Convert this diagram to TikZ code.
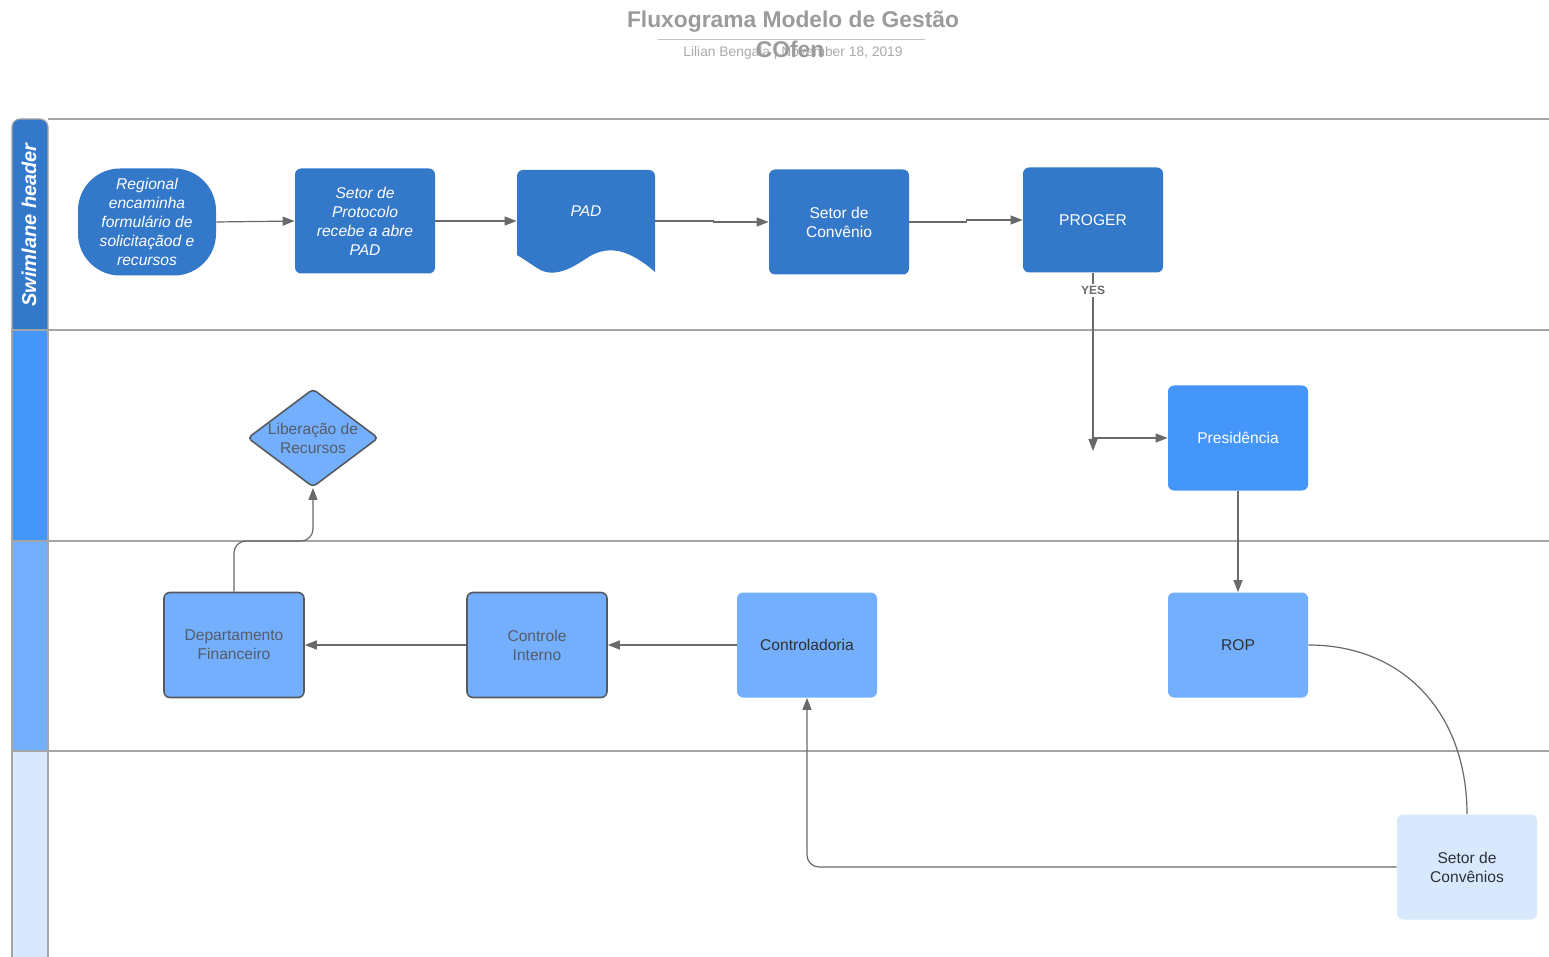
\documentclass[tikz,border=0pt]{standalone}
\usepackage{fontspec}
\setmainfont{Liberation Sans}
\usetikzlibrary{shapes.geometric, arrows.meta}
\definecolor{laneA}{RGB}{52,120,202}
\definecolor{laneB}{RGB}{68,150,250}
\definecolor{laneC}{RGB}{116,175,253}
\definecolor{laneD}{RGB}{216,232,253}
\definecolor{lanegray}{RGB}{165,165,165}
\definecolor{arrgray}{RGB}{105,105,105}
\definecolor{titlegray}{RGB}{155,155,155}
\definecolor{darktext}{RGB}{45,48,55}
\definecolor{midtext}{RGB}{85,92,105}
\definecolor{boxborder}{RGB}{85,90,95}
\begin{document}
\begin{tikzpicture}[x=0.5pt,y=-0.5pt,
  box/.style={rectangle, rounded corners=3pt, minimum width=70pt, minimum height=52.5pt,
    inner sep=1pt, align=center, font=\fontsize{7.8}{9.5}\selectfont},
  dkbox/.style={box, fill=laneA, text=white},
  itbox/.style={dkbox, font=\itshape\fontsize{7.8}{9.5}\selectfont},
  ltbox/.style={box, fill=laneC, text=darktext},
  bordbox/.style={box, fill=laneC, draw=boxborder, line width=0.8pt, text=midtext},
  arr/.style={draw=arrgray, line width=0.6pt, -{Triangle[length=6pt,width=4.5pt]}},
  plainline/.style={draw=arrgray, line width=0.6pt},
  lane/.style={draw=lanegray, line width=0.8pt},
  yes/.style={fill=white, inner sep=1pt, text=arrgray, font=\bfseries\fontsize{6}{7}\selectfont},
  hdrcell/.style={draw=lanegray, line width=0.6pt},
]
\useasboundingbox[fill=white] (0,0) rectangle (1549,957);

% title block
\node[font=\bfseries\fontsize{11.4}{13}\selectfont, text=titlegray] (title) at (793,22) {Fluxograma Modelo de Gestão};
\draw[titlegray!60, line width=0.5pt] (658,40) -- (925,40);
\node[font=\fontsize{6.9}{8}\selectfont, text=titlegray!85] (sub) at (793,53) {Lilian Bengala | November 18, 2019};
\node[font=\bfseries\fontsize{11.4}{13}\selectfont, text=titlegray] (cofen) at (790,49) {COfen};

% swimlanes
\path[hdrcell, fill=laneA] (12,330) [rounded corners=4pt] -- (12,119) -- (48,119) [sharp corners] -- (48,330) -- cycle;
\path[hdrcell, fill=laneB] (12,330) rectangle (48,541);
\path[hdrcell, fill=laneC] (12,541) rectangle (48,751);
\path[hdrcell, fill=laneD] (12,751) rectangle (48,960);
\draw[lane] (48,119) -- (1549,119);
\draw[lane] (48,330) -- (1549,330);
\draw[lane] (48,541) -- (1549,541);
\draw[lane] (48,751) -- (1549,751);
\node[rotate=90, font=\bfseries\itshape\fontsize{10}{12}\selectfont, text=white] (hdr) at (29,225) {Swimlane header};

% PAD document shape
\path[fill=laneA] (517,176) [rounded corners=3pt] -- (517,170) -- (655,170) [sharp corners] -- (655,272)
  .. controls (630,250) and (610,245) .. (590,256)
  .. controls (575,266) and (555,280) .. (537,268)
  .. controls (528,262) and (522,258) .. (517,255) -- cycle;

% nodes
\node[itbox, rounded corners=21pt, minimum width=69pt, minimum height=53.5pt] (reg) at (147,222)
  {Regional\\encaminha\\formulário de\\solicitaçãod e\\recursos};
\node[itbox] (prot) at (365,221) {Setor de\\Protocolo\\recebe a abre\\PAD};
\node[box, minimum width=69pt, minimum height=51pt] (pad) at (586,221) {};
\node[text=white, font=\itshape\fontsize{7.8}{9.5}\selectfont] (padtxt) at (586,211) {PAD};
\node[dkbox] (conv) at (839,222) {Setor de\\Convênio};
\node[dkbox] (proger) at (1093,220) {PROGER};
\node[box, fill=laneB, text=white] (pres) at (1238,438) {Presidência};
\node[ltbox] (rop) at (1238,645) {ROP};
\node[ltbox] (ctrl) at (807,645) {Controladoria};
\node[bordbox] (ci) at (537,645) {Controle\\Interno};
\node[bordbox] (dept) at (234,645) {Departamento\\Financeiro};
\node[diamond, aspect=1.33, fill=laneC, draw=boxborder, line width=0.8pt, rounded corners=2pt,
  inner sep=0pt, text=midtext, align=center, font=\fontsize{7.8}{9.5}\selectfont] (lib) at (313,438) {Liberação de\\Recursos};
\node[box, fill=laneD, text=darktext] (scv) at (1467,867) {Setor de\\Convênios};

% connectors
\coordinate (jn) at (1093,438);
\coordinate (jend) at (1093,451);
\coordinate (kk) at (313,541);
\draw[arr] (reg.east) -- (prot.west);
\draw[arr] (prot.east) -- (pad.west);
\draw[arr] (pad.east) -- ++(58,0) |- (conv.west);
\draw[arr] (conv.east) -- ++(57,0) |- (proger.west);
\draw[arr] (proger.south) -- node[yes, pos=0.098] {YES} (jend);
\draw[arr] (jn) -- (pres.west);
\draw[arr] (pres.south) -- (rop.north);
\draw[plainline] (rop.east) .. controls (1405,645) and (1467,715) .. (scv.north);
\draw[arr, rounded corners=6pt] (scv.west) -| (ctrl.south);
\draw[arr] (ctrl.west) -- (ci.east);
\draw[arr] (ci.west) -- (dept.east);
\draw[arr, rounded corners=6pt] (dept.north) |- (kk) -- (lib.south);
\end{tikzpicture}
\end{document}
